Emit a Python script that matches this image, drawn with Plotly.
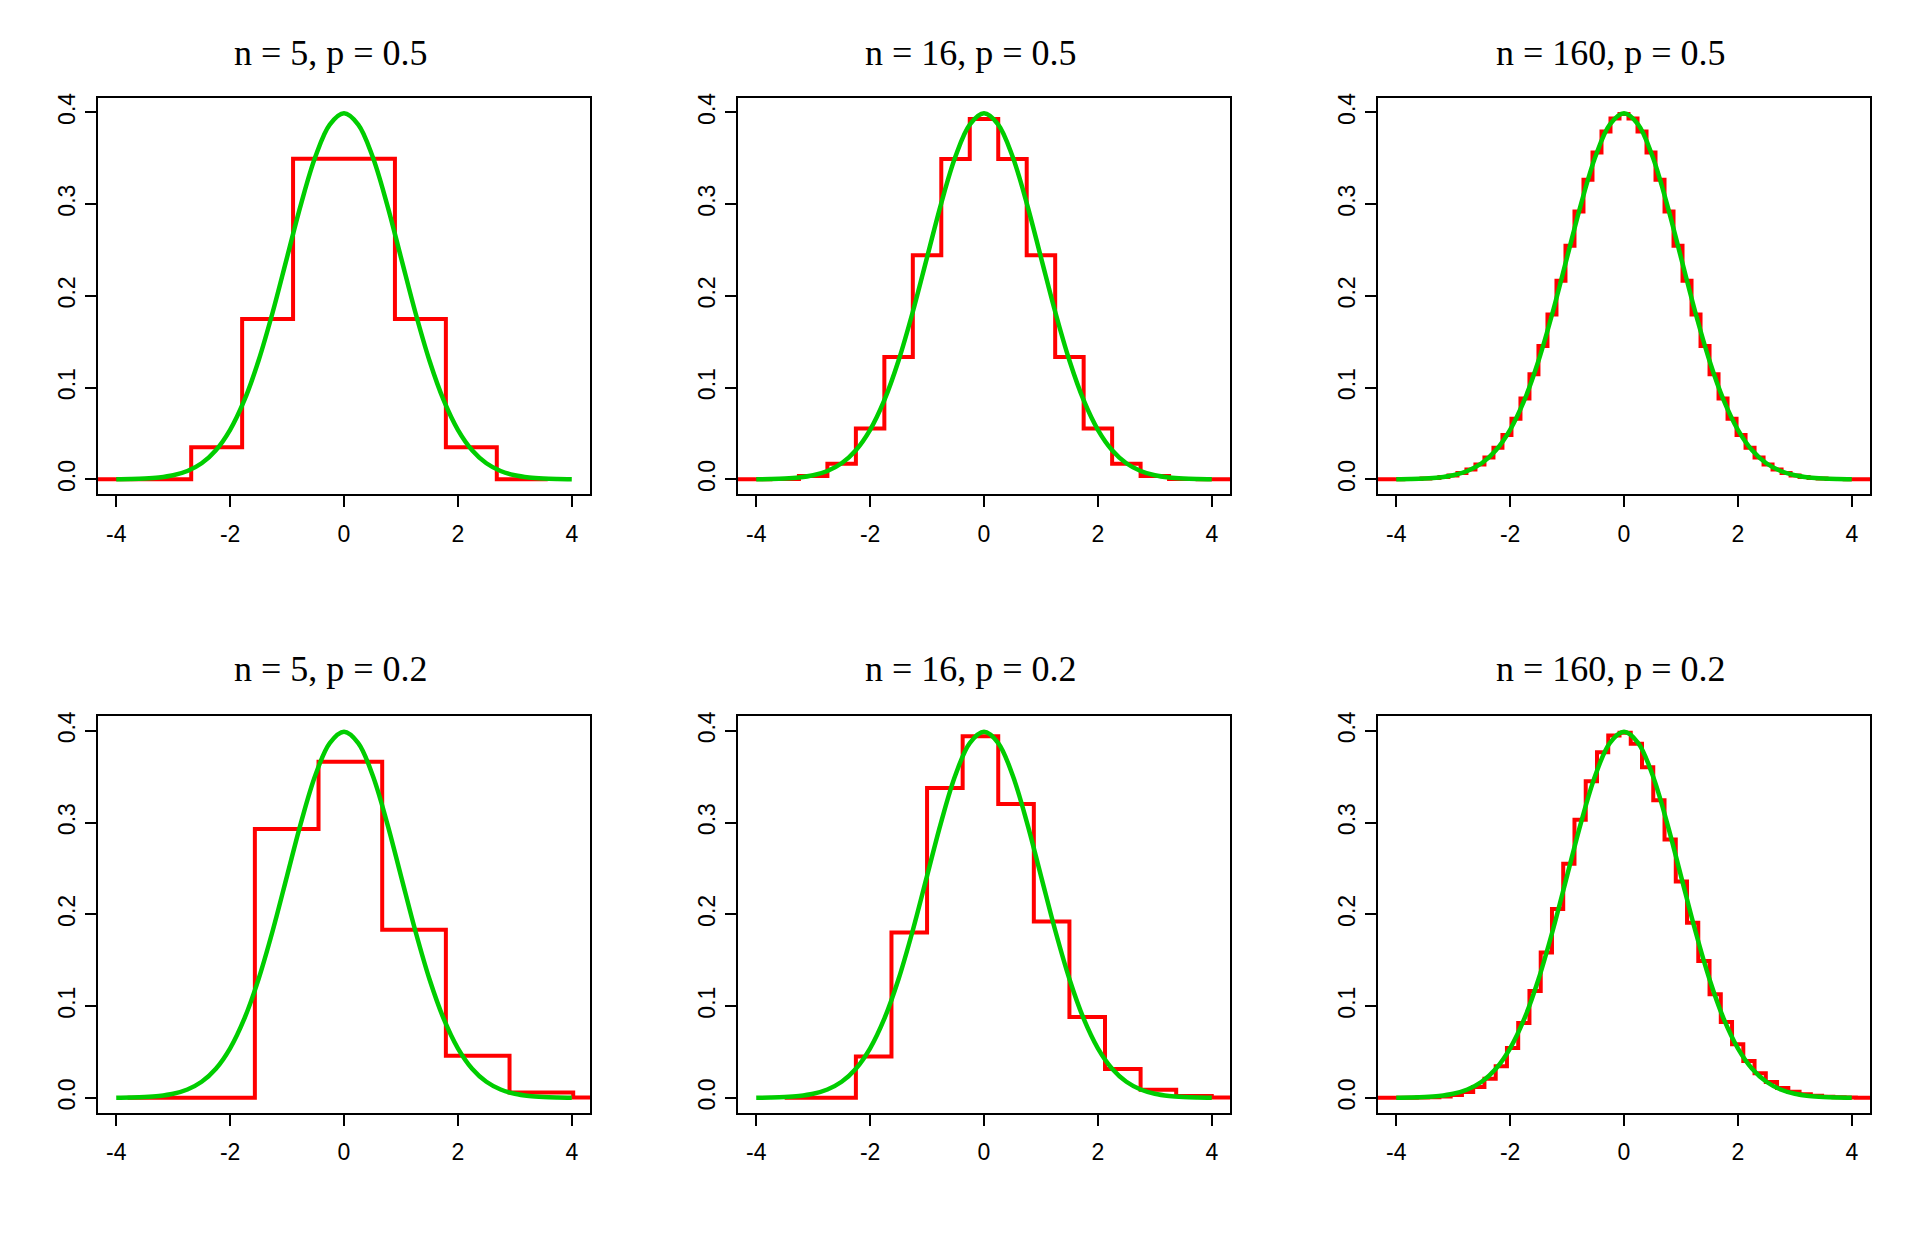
import math
import plotly.graph_objects as go

# panel parameters (row 1: p = 0.5, row 2: p = 0.2)
PANEL_N = [5, 16, 160, 5, 16, 160]
PANEL_P = [0.5, 0.5, 0.5, 0.2, 0.2, 0.2]
# small shift of the bar centres (in counts) seen in the skewed panels
CENTRE_OFFSET = [0.0, 0.0, 0.0, 0.1, 0.1, 0.1]
# first count k of each step line
K_START = [-2, -2, 52, -2, -2, 10]

# scaled binomial probabilities, one per count k from K_START
H_5_05 = [0, 0, 0.0349, 0.1747, 0.3494, 0.3494, 0.1747, 0.0349, 0, 0]
H_16_05 = [0, 0, 0.00003, 0.00049, 0.00366, 0.01709, 0.05554, 0.13330, 0.24438,
           0.34912, 0.39276, 0.34912, 0.24438, 0.13330, 0.05554, 0.01709,
           0.00366, 0.00049, 0.00003, 0, 0]
H_160_05 = [0.00002, 0.00004, 0.00008, 0.00015, 0.00028, 0.00051, 0.00090,
            0.00156, 0.00263, 0.00431, 0.00688, 0.01069, 0.01621, 0.02395,
            0.03446, 0.04835, 0.06614, 0.08818, 0.11464, 0.14532, 0.17964,
            0.21654, 0.25459, 0.29192, 0.32650, 0.35618, 0.37900, 0.39340,
            0.39832,
            0.39340, 0.37900, 0.35618, 0.32650, 0.29192, 0.25459, 0.21654,
            0.17964, 0.14532, 0.11464, 0.08818, 0.06614, 0.04835, 0.03446,
            0.02395, 0.01621, 0.01069, 0.00688, 0.00431, 0.00263, 0.00156,
            0.00090, 0.00051, 0.00028, 0.00015, 0.00008, 0.00004, 0.00002,
            0.00001]
H_5_02 = [0, 0, 0.2931, 0.3664, 0.1832, 0.0458, 0.0057, 0.0003, 0, 0]
H_16_02 = [0, 0, 0.04504, 0.18014, 0.33777, 0.39407, 0.32018, 0.19211, 0.08805,
           0.03145, 0.00884, 0.00196, 0.00034, 0.00005, 0.00001, 0, 0, 0, 0,
           0, 0]
H_160_02 = [0.0, 0.00001, 0.00004, 0.0001, 0.00027, 0.00066, 0.00149, 0.00316,
            0.00628, 0.01173, 0.02068, 0.03447, 0.05444, 0.08166, 0.11654,
            0.15849, 0.20573, 0.25526, 0.30312, 0.34493, 0.37655, 0.39477,
            0.39785, 0.38580, 0.36027, 0.32424, 0.28146, 0.23582, 0.19082,
            0.14923, 0.11286, 0.08258, 0.05849, 0.04013, 0.02668, 0.01719,
            0.01075, 0.00652, 0.00384, 0.00219, 0.00122, 0.00066, 0.00034,
            0.00018, 0.00009, 0.00004, 0.00002]
HEIGHTS = [H_5_05, H_16_05, H_160_05, H_5_02, H_16_02, H_160_02]

# standard normal density
NORM_X = [-4, -3.75, -3.5, -3.25, -3, -2.75, -2.5, -2.25, -2, -1.75, -1.5,
          -1.25, -1, -0.75, -0.5, -0.25, 0, 0.25, 0.5, 0.75, 1, 1.25, 1.5,
          1.75, 2, 2.25, 2.5, 2.75, 3, 3.25, 3.5, 3.75, 4]
NORM_Y = [0.00013, 0.00035, 0.00087, 0.00203, 0.00443, 0.00909, 0.01753,
          0.03174, 0.05399, 0.08628, 0.12952, 0.18265, 0.24197, 0.30114,
          0.35207, 0.38667, 0.39894, 0.38667, 0.35207, 0.30114, 0.24197,
          0.18265, 0.12952, 0.08628, 0.05399, 0.03174, 0.01753, 0.00909,
          0.00443, 0.00203, 0.00087, 0.00035, 0.00013]

X_TICKS = [-4, -2, 0, 2, 4]
X_TICK_TEXT = ["-4", "-2", "0", "2", "4"]
Y_TICKS = [0, 0.1, 0.2, 0.3, 0.4]
Y_TICK_TEXT = ["0.0", "0.1", "0.2", "0.3", "0.4"]

# the page body adds ~8px, so boxes sit a little up/left of the target spot
W, H = 1920, 1233
BOX_LEFT = [90, 730, 1370]
BOX_TOP = [85, 706]
BOX_W, BOX_H = 492, 398
TITLE_Y = [40, 659]

fig = go.Figure()
annotations = []
for i in range(6):
    row, col = divmod(i, 3)
    n, p = PANEL_N[i], PANEL_P[i]
    sd = math.sqrt(n * p * (1 - p))
    mean = n * p - CENTRE_OFFSET[i]
    ks = range(K_START[i], K_START[i] + len(HEIGHTS[i]))
    # left edge of each unit-wide bar, standardised
    edges = [(k - 0.5 - mean) / sd for k in ks]
    ax = "" if i == 0 else str(i + 1)

    fig.add_trace(go.Scatter(
        x=edges, y=HEIGHTS[i], mode="lines",
        line=dict(color="#FF0000", width=4, shape="hv"),
        xaxis="x" + ax, yaxis="y" + ax, showlegend=False, hoverinfo="skip",
    ))
    fig.add_trace(go.Scatter(
        x=NORM_X, y=NORM_Y, mode="lines",
        line=dict(color="#00CD00", width=4.5, shape="spline"),
        xaxis="x" + ax, yaxis="y" + ax, showlegend=False, hoverinfo="skip",
    ))

    l, t = BOX_LEFT[col], BOX_TOP[row]
    common = dict(
        showline=True, mirror=True, linecolor="black", linewidth=2,
        showgrid=False, zeroline=False, ticks="outside", ticklen=11,
        tickwidth=2, tickcolor="black",
        tickfont=dict(family="Liberation Sans", size=23, color="black"),
    )
    fig.layout["xaxis" + ax] = dict(
        common, domain=[l / W, (l + BOX_W) / W], range=[-4.32, 4.32],
        tickvals=X_TICKS, ticktext=X_TICK_TEXT, anchor="y" + ax,
        ticklabelstandoff=7,
    )
    fig.layout["yaxis" + ax] = dict(
        common, domain=[1 - (t + BOX_H) / H, 1 - t / H], range=[-0.016, 0.416],
        tickvals=Y_TICKS, ticktext=Y_TICK_TEXT, anchor="x" + ax,
        tickangle=-90, ticklabelstandoff=1,
    )
    annotations.append(dict(
        text=f"n = {n}, p = {p}", xref="paper", yref="paper",
        x=(l + BOX_W / 2 - 13) / W, y=1 - TITLE_Y[row] / H,
        xanchor="center", yanchor="middle", showarrow=False,
        font=dict(family="Liberation Serif", size=36, color="black"),
    ))

fig.update_layout(
    width=W, height=H, margin=dict(l=0, r=0, t=0, b=0),
    paper_bgcolor="white", plot_bgcolor="white",
    annotations=annotations,
)
fig.write_html("out.html")
